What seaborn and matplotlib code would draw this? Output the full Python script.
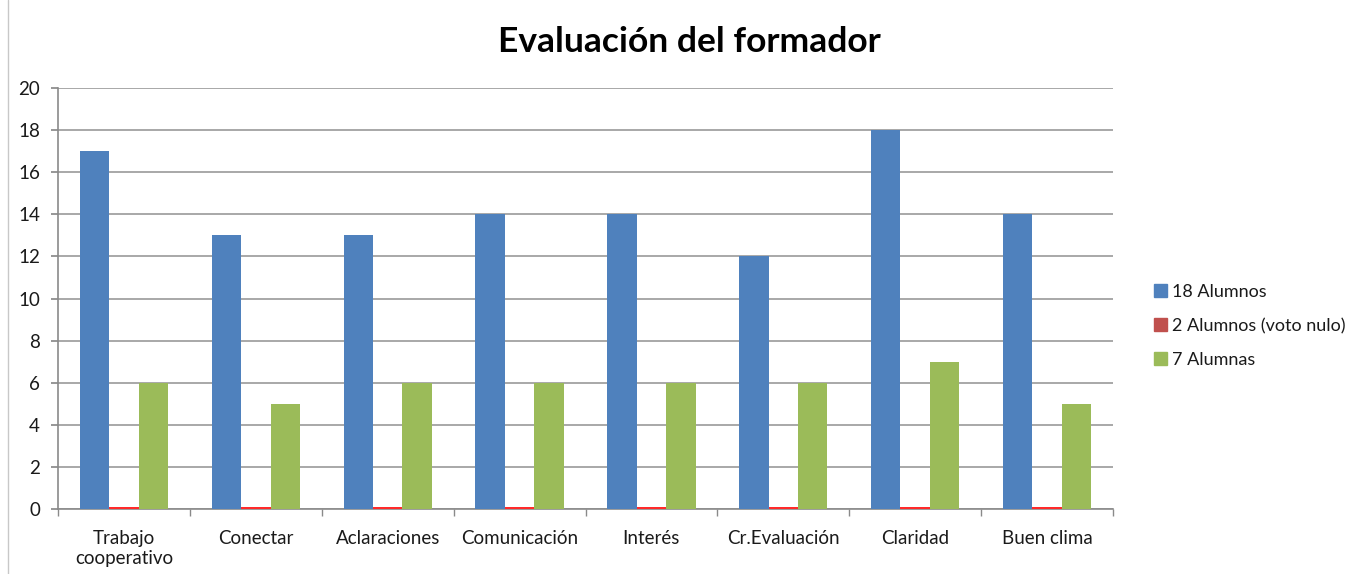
import pandas as pd
import seaborn as sns
from matplotlib import pyplot as plt
from matplotlib.lines import Line2D
from matplotlib.ticker import FixedLocator

categorias = ["Trabajo\ncooperativo", "Conectar", "Aclaraciones", "Comunicación",
              "Interés", "Cr.Evaluación", "Claridad", "Buen clima"]
series = ["18 Alumnos", "2 Alumnos (voto nulo)", "7 Alumnas"]
alumnos_18 = [17, 13, 13, 14, 14, 12, 18, 14]
voto_nulo = [0.1, 0.1, 0.1, 0.1, 0.1, 0.1, 0.1, 0.1]
alumnas_7 = [6, 5, 6, 6, 6, 6, 7, 5]
colores = ["#4F81BD", "#FF2A2A", "#9BBB59"]
colores_leyenda = ["#4F81BD", "#C0504D", "#9BBB59"]

sns.set_theme(style="white")
plt.rcParams['font.family'] = ['Lato', 'DejaVu Sans']
plt.rcParams['text.color'] = '#1a1a1a'

df = pd.DataFrame({
    'categoria': categorias * 3,
    'serie': [s for s in series for _ in categorias],
    'valor': alumnos_18 + voto_nulo + alumnas_7,
})

fig = plt.figure(figsize=(13.62, 5.74), dpi=100)
ax = fig.add_axes([58 / 1362, 1 - 509 / 574, (1113 - 58) / 1362, (509 - 88) / 574])
sns.barplot(df, x='categoria', y='valor', hue='serie', palette=colores,
            width=0.67, gap=0, saturation=1, linewidth=0, ax=ax, legend=False)

ax.set_ylim(0, 20)
ax.set_xlim(-0.5, len(categorias) - 0.5)
ax.set_yticks(range(0, 21, 2))
ax.yaxis.grid(True, color='#9a9a9a', linewidth=1.2)
ax.set_axisbelow(True)
ax.set_xlabel('')
ax.set_ylabel('')
for side in ['top', 'right']:
    ax.spines[side].set_visible(False)
for side in ['left', 'bottom']:
    ax.spines[side].set_color('#8a8a8a')
    ax.spines[side].set_linewidth(1.2)
# the red bars sit on the axis line, so paint the line under them
ax.spines['bottom'].set_zorder(0.8)
ax.tick_params(axis='y', left=True, length=5, color='#8a8a8a', labelsize=13.5,
               labelcolor='#1a1a1a', pad=8)
ax.tick_params(axis='x', which='major', bottom=False, labelsize=13.5,
               labelcolor='#1a1a1a', pad=9)
ax.xaxis.set_minor_locator(FixedLocator([i + 0.5 for i in range(-1, len(categorias))]))
ax.tick_params(axis='x', which='minor', bottom=True, length=5, color='#8a8a8a')

fig.suptitle('Evaluación del formador', x=689 / 1362, y=1 - 42 / 574, va='center',
             fontsize=25.5, fontweight='bold', color='black')

handles = [plt.Rectangle((0, 0), 1, 1, color=c) for c in colores_leyenda]
fig.legend(handles, series, loc='center left', bbox_to_anchor=(1138 / 1362, 1 - 326 / 574),
           frameon=False, fontsize=13, handlelength=0.7, handleheight=0.7,
           handletextpad=0.3, labelspacing=1.0)

fig.add_artist(Line2D([8 / 1362, 8 / 1362], [0, 1], color='#c8c8c8', linewidth=1))
fig.savefig('out.png', dpi=100)
